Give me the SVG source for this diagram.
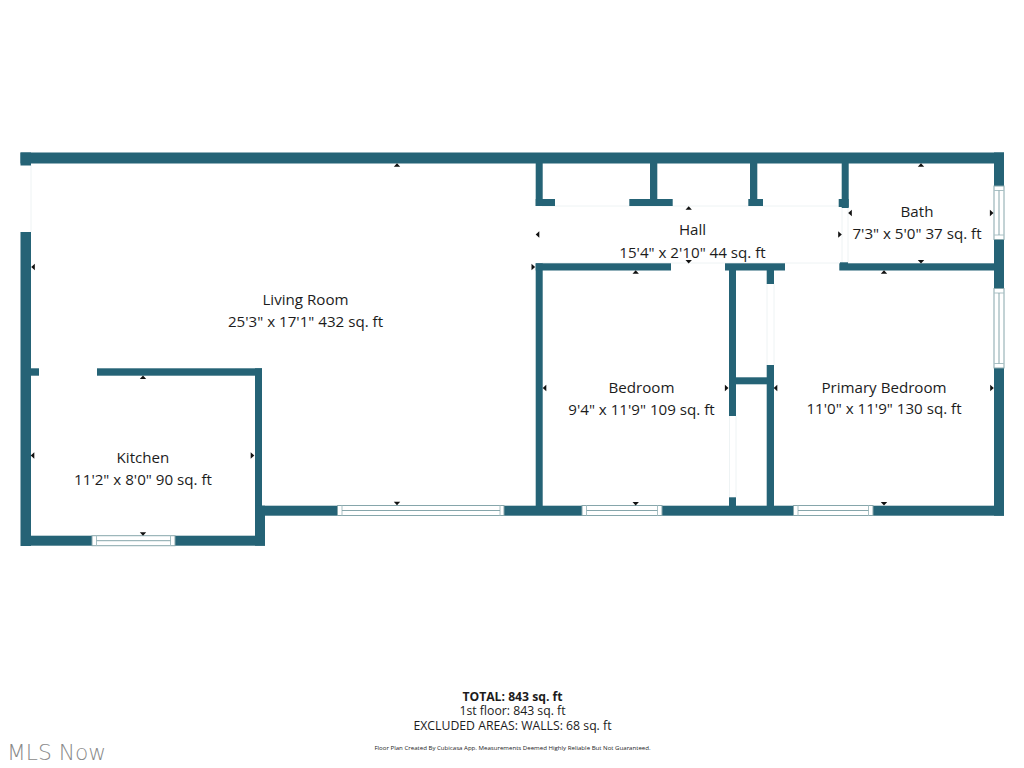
<svg xmlns="http://www.w3.org/2000/svg" xmlns:xlink="http://www.w3.org/1999/xlink" width="1024" height="768" viewBox="0 0 1024 768">
<style>
.wall{fill:#256376}
.win{fill:#fff;stroke:#86a6ab;stroke-width:1}
.cap{stroke:#a9c0c4;stroke-width:1;fill:none}
.door{fill:none;stroke:#eef3f4;stroke-width:1}
text{font-family:"Open Sans","Noto Sans","Liberation Sans",sans-serif;fill:#1c1c1c;text-anchor:middle}
.room{font-size:15.15px}
.mark{fill:#111}
</style>
<defs>
<polygon id="u" points="-3.200,1.800 3.200,1.800 0,-1.800"/>
<polygon id="d" points="-3.200,-1.800 3.200,-1.800 0,1.800"/>
<polygon id="l" points="1.800,-3.200 1.800,3.200 -1.800,0"/>
<polygon id="r" points="-1.800,-3.200 -1.800,3.200 1.800,0"/>
</defs>
<rect width="1024" height="768" fill="#fff"/>
<g id="openings">
<path class="door" d="M31 165V232M542 206H842V263H542M848 207V263M729.500 416V497M736 416V497M767 284V365M774 284V365"/>
</g>
<g id="walls">
<rect class="wall" x="20.500" y="152.500" width="983.500" height="11"/>
<rect class="wall" x="20.500" y="152.500" width="10.500" height="13"/>
<rect class="wall" x="20.500" y="232" width="10.500" height="314"/>
<rect class="wall" x="31" y="368.300" width="8" height="7.400"/>
<rect class="wall" x="97" y="368.300" width="165" height="7.400"/>
<rect class="wall" x="255" y="368.300" width="7" height="140"/>
<rect class="wall" x="255" y="505.700" width="10" height="40"/>
<rect class="wall" x="31" y="535.700" width="61" height="10"/>
<rect class="wall" x="175" y="535.700" width="90" height="10"/>
<rect class="wall" x="262" y="505.700" width="75.500" height="10"/>
<rect class="wall" x="504" y="505.700" width="78" height="10"/>
<rect class="wall" x="662" y="505.700" width="131.500" height="10"/>
<rect class="wall" x="873" y="505.700" width="131" height="10"/>
<rect class="wall" x="994" y="152.500" width="10" height="33.500"/>
<rect class="wall" x="994" y="239.500" width="10" height="49"/>
<rect class="wall" x="994" y="368" width="10" height="147.700"/>
<rect class="wall" x="535.700" y="263.300" width="7" height="243"/>
<rect class="wall" x="535.700" y="263.300" width="135.300" height="7.200"/>
<rect class="wall" x="725" y="263.300" width="60" height="7.200"/>
<rect class="wall" x="839.300" y="263.300" width="155" height="7.200"/>
<rect class="wall" x="840" y="262.300" width="8" height="2"/>
<rect class="wall" x="535.700" y="163" width="7" height="43"/>
<rect class="wall" x="535.700" y="199" width="19.300" height="7"/>
<rect class="wall" x="650" y="163" width="7.300" height="43"/>
<rect class="wall" x="629.300" y="199" width="43.400" height="7"/>
<rect class="wall" x="750" y="163" width="7.300" height="43"/>
<rect class="wall" x="748.300" y="199" width="14.700" height="7"/>
<rect class="wall" x="841.700" y="163" width="7" height="45"/>
<rect class="wall" x="838.700" y="199" width="10" height="8"/>
<rect class="wall" x="729" y="270" width="7" height="146"/>
<rect class="wall" x="729" y="497.300" width="7" height="9"/>
<rect class="wall" x="766.700" y="270" width="7.300" height="14"/>
<rect class="wall" x="766.700" y="365" width="7.300" height="141"/>
<rect class="wall" x="736" y="377.300" width="31" height="7"/>
</g>
<g id="windows">
<g id="window-living">
<rect class="win" x="337.500" y="505.500" width="166.500" height="10"/>
<path class="cap" d="M342 505.500V515.500M500 505.500V515.500"/>
<path class="win" d="M342 510.500H500"/>
</g>
<g id="window-bedroom">
<rect class="win" x="582" y="505.500" width="80" height="10"/>
<path class="cap" d="M586.500 505.500V515.500M657.500 505.500V515.500"/>
<path class="win" d="M586.500 510.500H657.500"/>
</g>
<g id="window-primary">
<rect class="win" x="793.500" y="505.500" width="79.500" height="10"/>
<path class="cap" d="M798 505.500V515.500M868.500 505.500V515.500"/>
<path class="win" d="M798 510.500H868.500"/>
</g>
<g id="window-kitchen">
<rect class="win" x="92" y="535.700" width="83" height="10"/>
<path class="cap" d="M96.500 535.700V545.700M170.500 535.700V545.700"/>
<path class="win" d="M96.500 540.700H170.500"/>
</g>
<g id="window-bath">
<rect class="win" x="994" y="186" width="10" height="53.500"/>
<path class="cap" d="M994 190.500H1004M994 235H1004"/>
<path class="win" d="M999 190.500V235"/>
</g>
<g id="window-primary-east">
<rect class="win" x="994" y="288.500" width="10" height="79.500"/>
<path class="cap" d="M994 293H1004M994 363.500H1004"/>
<path class="win" d="M999 293V363.500"/>
</g>
</g>
<g id="living-room">
<text class="room" x="305.500" y="305">Living Room</text>
<text class="room" x="305.500" y="326.500">25'3" x 17'1" 432 sq. ft</text>
<use class="mark" href="#u" x="397" y="165"/><use class="mark" href="#d" x="397" y="503.500"/><use class="mark" href="#l" x="33" y="267"/><use class="mark" href="#r" x="533.300" y="267"/>
</g>
<g id="kitchen">
<text class="room" x="143" y="463">Kitchen</text>
<text class="room" x="143" y="484.500">11'2" x 8'0" 90 sq. ft</text>
<use class="mark" href="#u" x="143" y="377.300"/><use class="mark" href="#d" x="143" y="534"/><use class="mark" href="#l" x="32.500" y="455.500"/><use class="mark" href="#r" x="252.500" y="455.500"/>
</g>
<g id="hall">
<text class="room" x="692.500" y="235">Hall</text>
<text class="room" x="692.500" y="257.500">15'4" x 2'10" 44 sq. ft</text>
<use class="mark" href="#u" x="688.700" y="208"/><use class="mark" href="#d" x="688.700" y="261.700"/><use class="mark" href="#l" x="537.500" y="234.500"/><use class="mark" href="#r" x="840" y="234.500"/>
</g>
<g id="bath">
<text class="room" x="917" y="217">Bath</text>
<text class="room" x="917" y="238.500">7'3" x 5'0" 37 sq. ft</text>
<use class="mark" href="#u" x="921" y="165"/><use class="mark" href="#d" x="921" y="261.700"/><use class="mark" href="#l" x="850" y="213"/><use class="mark" href="#r" x="991.700" y="213"/>
</g>
<g id="bedroom">
<text class="room" x="641.500" y="393">Bedroom</text>
<text class="room" x="641.500" y="414.500">9'4" x 11'9" 109 sq. ft</text>
<use class="mark" href="#u" x="635.700" y="272"/><use class="mark" href="#d" x="635.700" y="503.700"/><use class="mark" href="#l" x="544.500" y="388"/><use class="mark" href="#r" x="726.700" y="388"/>
</g>
<g id="primary-bedroom">
<text class="room" x="884" y="393">Primary Bedroom</text>
<text class="room" x="884" y="413.500">11'0" x 11'9" 130 sq. ft</text>
<use class="mark" href="#u" x="884" y="272"/><use class="mark" href="#d" x="884" y="503.700"/><use class="mark" href="#l" x="775.500" y="388"/><use class="mark" href="#r" x="992" y="388"/>
</g>
<g id="summary">
<text x="512.500" y="700.500" font-size="12.200" font-weight="700" fill="#111">TOTAL: 843 sq. ft</text>
<text x="512.500" y="715" font-size="12.250">1st floor: 843 sq. ft</text>
<text x="512.500" y="730" font-size="12.250">EXCLUDED AREAS: WALLS: 68 sq. ft</text>
<text x="512.500" y="749.500" font-size="6.100">Floor Plan Created By Cubicasa App. Measurements Deemed Highly Reliable But Not Guaranteed.</text>
</g>
<text id="watermark" x="7" y="760" font-size="21.800" style="font-family:'DejaVu Sans',sans-serif;text-anchor:start;fill:#8a8a8a;font-weight:200">MLS Now</text>
</svg>
